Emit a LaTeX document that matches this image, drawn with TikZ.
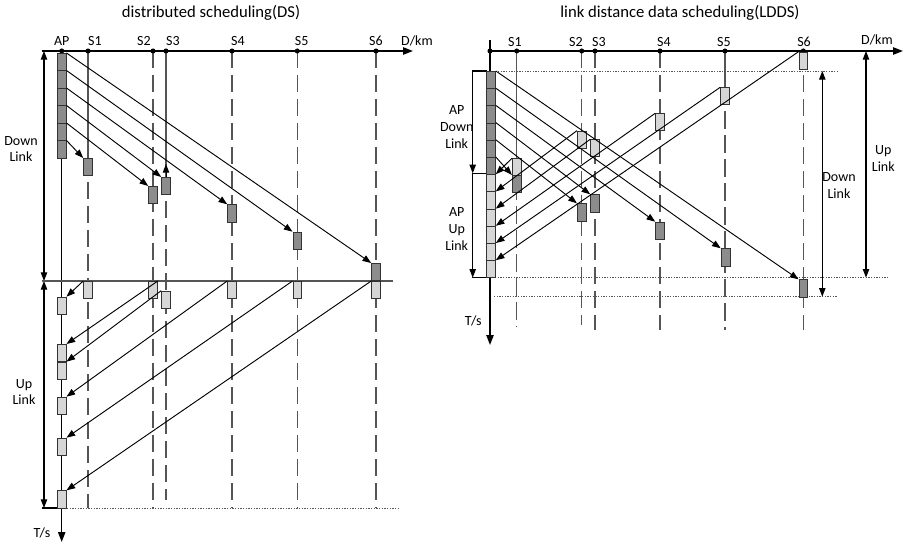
\documentclass[tikz,border=0pt]{standalone}
\usepackage{fontspec}
\setmainfont{Carlito}
\usetikzlibrary{arrows.meta}
\definecolor{dk}{HTML}{8C8C8C}
\definecolor{lt}{HTML}{D6D6D6}
\definecolor{st}{HTML}{555555}
\definecolor{bd}{HTML}{333333}
\begin{document}
\begin{tikzpicture}[x=0.75pt,y=-0.75pt,
 lab/.style={font=\fontsize{10.5}{12.5}\selectfont, inner sep=0pt, align=center},
 ttl/.style={font=\fontsize{12.5}{15}\selectfont, inner sep=0pt},
 ax/.style={line width=1.1pt, -{Triangle[length=7.5pt,width=5.5pt]}},
 sig/.style={line width=0.7pt, -{Triangle[length=6.5pt,width=4.8pt]}},
 both/.style={line width=0.8pt, {Triangle[length=6.5pt,width=4.8pt]}-{Triangle[length=6.5pt,width=4.8pt]}},
 one/.style={line width=0.8pt, -{Triangle[length=6.5pt,width=4.8pt]}},
 tick/.style={line width=0.8pt},
 stl/.style={draw=st, line width=1pt},
 stdash/.style={stl, dash pattern=on 13pt off 5pt},
 dotl/.style={draw=st, line width=0.7pt, dash pattern=on 1pt off 1pt},
 dot/.style={circle, fill=black, inner sep=0pt, minimum size=3.8pt},
 bx/.style={rectangle, draw=bd, line width=0.6pt, minimum width=6.6pt, minimum height=12.9pt, inner sep=0pt, anchor=north},
 dbx/.style={bx, fill=dk},
 lbx/.style={bx, fill=lt},
]
\useasboundingbox (0,0) rectangle (905,545);

%================ LEFT: DS =================
\node[ttl] (t1) at (211,13) {distributed scheduling(DS)};
\coordinate (lapc) at (61.7,51);
\coordinate (lxe) at (413,51);
\coordinate (lte) at (61.7,542);
\draw[ax] (lapc) -- (lxe);
\draw[ax] (lapc) -- (lte);

% station lines
\draw[stl] (88,51) -- (88,158);
\draw[stdash] (88,158) -- (88,508);
\draw[stdash] (153,51) -- (153,508);
\draw[stl] (166,51) -- (166,177);
\draw[stdash] (166,177) -- (166,500);
\draw[stdash] (232,51) -- (232,508);
\draw[stdash] (297.3,51) -- (297.3,508);
\draw[stdash] (376,51) -- (376,508);

\node[dot] (lap) at (lapc) {};
\node[dot] (l1) at (88,51) {};
\node[dot] (l2) at (153,51) {};
\node[dot] (l3) at (166,51) {};
\node[dot] (l4) at (232,51) {};
\node[dot] (l5) at (297.3,51) {};
\node[dot] (l6) at (376,51) {};

\node[lab] (lapl) at (61.7,41) {AP};
\node[lab] (l1l) at (95,41) {S1};
\node[lab] (l2l) at (144,41) {S2};
\node[lab] (l3l) at (173,41) {S3};
\node[lab] (l4l) at (238,41) {S4};
\node[lab] (l5l) at (301.7,41) {S5};
\node[lab] (l6l) at (376,41) {S6};
\node[lab] (ldkm) at (417,41) {D/km};

% brackets
\coordinate (ldt) at (44,51);
\coordinate (ldm) at (44,281);
\coordinate (ldb) at (44,508);
\draw[tick] (41.5,51) -- (lapc);
\draw[both] (ldm) -- (ldt);
\draw[both] (ldm) -- (ldb);
\draw[draw=st, line width=1pt] (41.5,281) -- (393,281);
\draw[tick] (41.5,508) -- (61.7,508);
\draw[dotl] (61.7,508) -- (398,508);
\node[lab] (ldl) at (21,149) {Down\\Link};
\node[lab] (lul) at (24,392) {Up\\Link};
\node[lab] (lts) at (42,533) {T/s};

% AP downlink boxes
\node[dbx] (la1) at (61.7,53) {};
\node[dbx] (la2) at (61.7,70.5) {};
\node[dbx] (la3) at (61.7,88) {};
\node[dbx] (la4) at (61.7,105.5) {};
\node[dbx] (la5) at (61.7,123) {};
\node[dbx] (la6) at (61.7,140.5) {};
% station downlink boxes
\node[dbx] (ls1d) at (88,158) {};
\node[dbx] (ls2d) at (153,186) {};
\node[dbx] (ls3d) at (166,177) {};
\node[dbx] (ls4d) at (232,204.3) {};
\node[dbx] (ls5d) at (297.3,231.7) {};
\node[dbx] (ls6d) at (376,263) {};
\draw[sig] (la1.north east) -- (ls6d.north west);
\draw[sig] (la2.north east) -- (ls5d.north west);
\draw[sig] (la3.north east) -- (ls4d.north west);
\draw[sig] (la4.north east) -- (ls3d.north west);
\draw[sig] (la5.north east) -- (ls2d.north west);
\draw[sig] (la6.north east) -- (ls1d.north west);
\coordinate (ls3up) at (166,164);
\draw[sig] (ls3d.north) -- (ls3up);

% station uplink boxes
\node[lbx] (ls1u) at (88,281) {};
\node[lbx] (ls2u) at (153,281) {};
\node[lbx] (ls3u) at (166,290.7) {};
\node[lbx] (ls4u) at (232,281) {};
\node[lbx] (ls5u) at (297.3,281) {};
\node[lbx] (ls6u) at (376,281) {};
% AP uplink boxes
\node[lbx] (lb1) at (61.7,296.7) {};
\node[lbx] (lb2) at (61.7,344) {};
\node[lbx] (lb3) at (61.7,361.7) {};
\node[lbx] (lb4) at (61.7,396.7) {};
\node[lbx] (lb5) at (61.7,437.7) {};
\node[lbx] (lb6) at (61.7,490.3) {};
\draw[sig] (ls1u.north west) -- (lb1.north east);
\draw[sig] (ls2u.north east) -- (lb2.north east);
\draw[sig] (ls3u.north west) -- (lb3.north east);
\draw[sig] (ls4u.north west) -- (lb4.north east);
\draw[sig] (ls5u.north west) -- (lb5.north east);
\draw[sig] (ls6u.north west) -- (lb6.north east);

%================ RIGHT: LDDS =================
\node[ttl] (t2) at (680,13) {link distance data scheduling(LDDS)};
\coordinate (rapc) at (490,51);
\coordinate (rxe) at (903,51);
\coordinate (rte) at (490,345);
\coordinate (rtop) at (490,40);
\draw[ax] (rapc) -- (rxe);
\draw[ax] (rapc) -- (rte);
\draw[tick] (rtop) -- (rapc);

\draw[stl] (516.7,51) -- (516.7,158.3);
\draw[stdash] (516.7,158.3) -- (516.7,327);
\draw[stdash] (581.7,51) -- (581.7,325);
\draw[stdash] (595,51) -- (595,330);
\draw[stdash] (660,51) -- (660,330);
\draw[stl] (725,51) -- (725,87.3);
\draw[stdash] (725,87.3) -- (725,330);
\draw[stdash] (803.3,51) -- (803.3,330);

\node[dot] (rap) at (rapc) {};
\node[dot] (r1) at (516.7,51) {};
\node[dot] (r2) at (581.7,51) {};
\node[dot] (r3) at (595,51) {};
\node[dot] (r4) at (660,51) {};
\node[dot] (r5) at (725,51) {};
\node[dot] (r6) at (803.3,51) {};

\node[lab] (r1l) at (515,41.7) {S1};
\node[lab] (r2l) at (576,41.7) {S2};
\node[lab] (r3l) at (599,41.7) {S3};
\node[lab] (r4l) at (664,41.7) {S4};
\node[lab] (r5l) at (724,41.7) {S5};
\node[lab] (r6l) at (804,41.7) {S6};
\node[lab] (rdkm) at (877,40) {D/km};

% dotted guides and brackets
\draw[dotl] (490,71) -- (838,71);
\draw[dotl] (495,277.7) -- (888,277.7);
\draw[dotl] (494,296.7) -- (838,296.7);
\draw[tick] (471.7,71) -- (487,71);
\draw[tick] (471.7,173.3) -- (487,173.3);
\draw[tick] (471.7,277.7) -- (487,277.7);
\coordinate (rd0) at (472.7,71);
\coordinate (rd1) at (472.7,173.3);
\coordinate (rd2) at (472.7,277.7);
\draw[one] (rd0) -- (rd1);
\draw[one] (rd1) -- (rd2);
\coordinate (rdl0) at (822.3,71);
\coordinate (rdl1) at (822.3,296.7);
\draw[both] (rdl0) -- (rdl1);
\coordinate (rul0) at (866,51);
\coordinate (rul1) at (866,277.7);
\draw[both] (rul0) -- (rul1);
\node[lab] (rapdl) at (456.7,127) {AP\\Down\\Link};
\node[lab] (rapul) at (456.7,229) {AP\\Up\\Link};
\node[lab] (rdl) at (839,185.7) {Down\\Link};
\node[lab] (rul) at (883.3,158.3) {Up\\Link};
\node[lab] (rts) at (473.3,320.7) {T/s};

% AP boxes
\node[dbx] (ra1) at (491,71) {};
\node[dbx] (ra2) at (491,88.2) {};
\node[dbx] (ra3) at (491,105.4) {};
\node[dbx] (ra4) at (491,122.6) {};
\node[dbx] (ra5) at (491,139.8) {};
\node[dbx] (ra6) at (491,157) {};
\node[lbx] (rb1) at (491,174.2) {};
\node[lbx] (rb2) at (491,191.4) {};
\node[lbx] (rb3) at (491,208.6) {};
\node[lbx] (rb4) at (491,225.8) {};
\node[lbx] (rb5) at (491,243) {};
\node[lbx] (rb6) at (491,260.2) {};

% station boxes
\node[lbx] (rs1u) at (516.7,158.3) {};
\node[lbx] (rs2u) at (581.7,130.7) {};
\node[lbx] (rs3u) at (595,139.3) {};
\node[lbx] (rs4u) at (660,113.3) {};
\node[lbx] (rs5u) at (725,87.3) {};
\node[lbx] (rs6u) at (803.3,51.7) {};
\node[dbx] (rs1d) at (516.7,175) {};
\node[dbx] (rs2d) at (581.7,203.3) {};
\node[dbx] (rs3d) at (595,194.3) {};
\node[dbx] (rs4d) at (660,221.7) {};
\node[dbx] (rs5d) at (725.5,248.3) {};
\node[dbx] (rs6d) at (803.3,279.3) {};

\draw[sig] (ra1.north east) -- (rs6d.north west);
\draw[sig] (ra2.north east) -- (rs5d.north west);
\draw[sig] (ra3.north east) -- (rs4d.north west);
\draw[sig] (ra4.north east) -- (rs3d.north west);
\draw[sig] (ra5.north east) -- (rs2d.north west);
\draw[sig] (ra6.north east) -- (rs1d.north west);
\draw[sig] (rs6u.north west) -- (rb6.north east);
\draw[sig] (rs5u.north west) -- (rb5.north east);
\draw[sig] (rs4u.north west) -- (rb4.north east);
\draw[sig] (rs3u.north west) -- (rb3.north east);
\draw[sig] (rs2u.north west) -- (rb2.north east);
\draw[sig] (rs1u.north west) -- (rb1.north east);
\end{tikzpicture}
\end{document}
